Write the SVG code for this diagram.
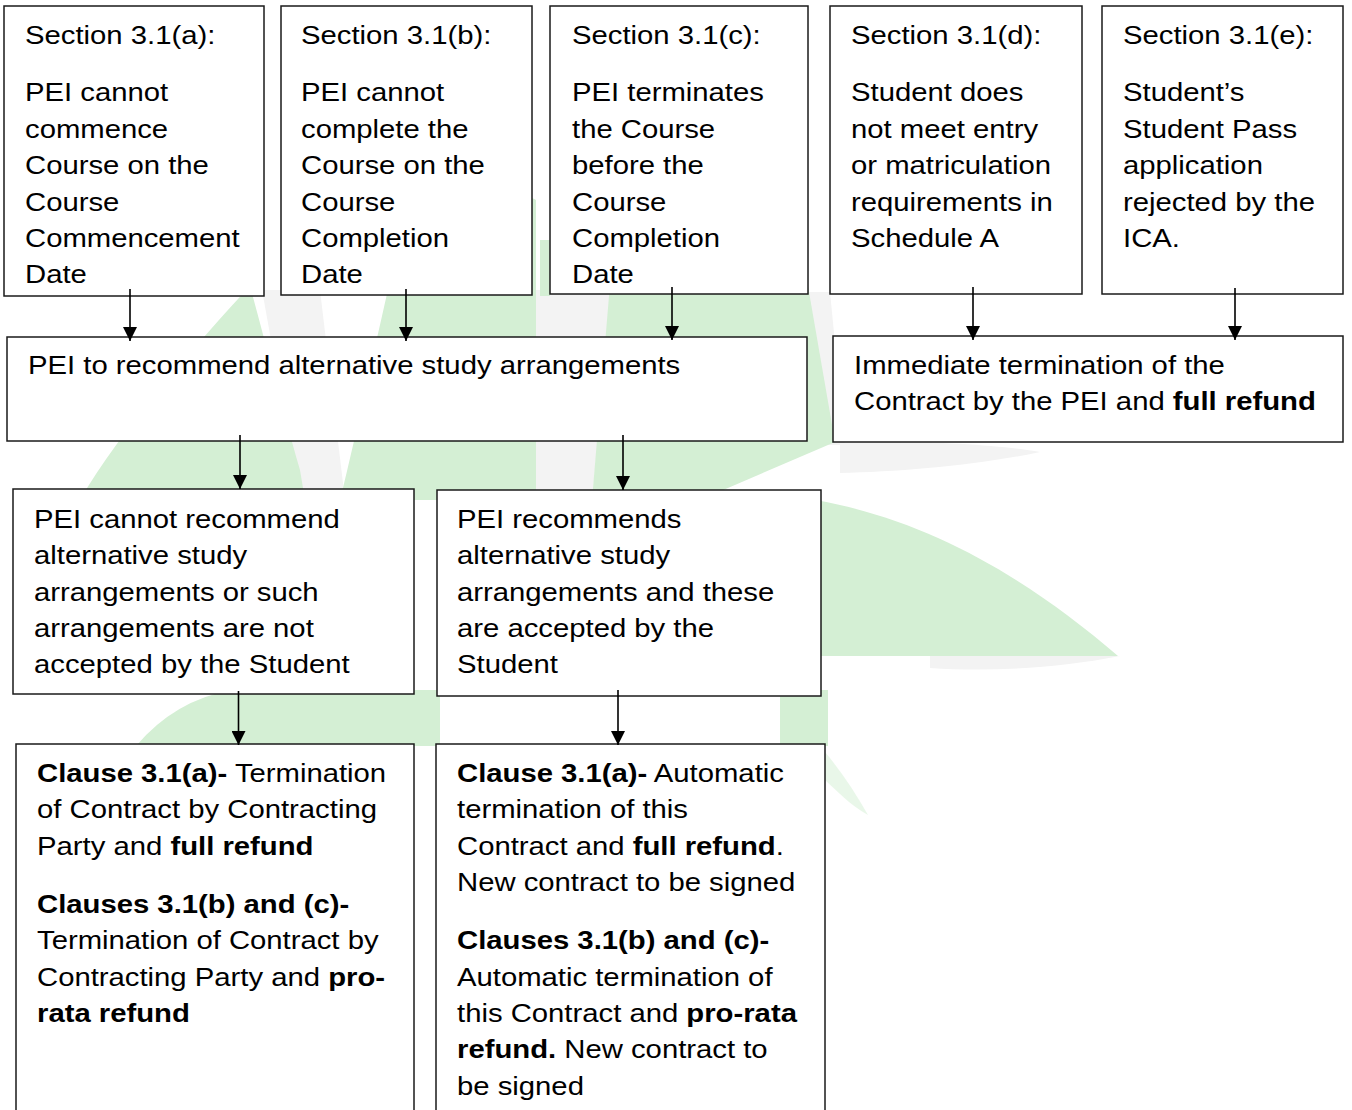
<svg xmlns="http://www.w3.org/2000/svg" width="1352" height="1110" viewBox="0 0 1352 1110">
<style>
.box{fill:#fff;stroke:#1a1a1a;stroke-width:1.5}
.t{font-family:"Liberation Sans",Arial,sans-serif;font-size:26.5px;fill:#000}
.b{font-weight:bold}
.leaf{fill:#d4efd4}
.grey{fill:#f3f3f3}
.con{stroke:#000;stroke-width:1.6;fill:none}
</style>
<defs>
<marker id="ah" markerUnits="userSpaceOnUse" markerWidth="14" markerHeight="14" refX="14" refY="7" orient="auto" viewBox="0 0 14 14">
<path d="M0,0 L14,7 L0,14 Z" fill="#000"/>
</marker>
</defs>
<rect width="1352" height="1110" fill="#fff"/>
<g id="watermark">
<path class="grey" d="M262,290 L320,290 L345,500 L300,500 Z"/>
<path class="grey" d="M536,290 L612,290 L592,500 L536,500 Z"/>
<path class="grey" d="M800,292 L830,292 L845,445 L800,445 Z"/>
<path class="grey" d="M840,443 C920,440 1000,445 1040,452 C980,465 900,472 840,473 Z"/>
<path class="grey" d="M930,655 L1120,656 C1060,668 990,672 930,668 Z"/>
<path class="leaf" d="M250,286 C262,330 280,400 300,470 L305,500 L80,500 C120,430 200,340 250,286 Z"/>
<path class="leaf" d="M402,230 C450,200 520,190 536,200 L536,500 L340,500 C360,420 380,320 402,230 Z"/>
<path class="leaf" d="M540,240 L550,240 L550,296 L540,296 Z"/>
<path class="leaf" d="M612,260 C680,230 760,230 800,240 L835,442 L700,500 L592,500 Z"/>
<path class="leaf" d="M815,500 C930,520 1030,580 1118,656 L815,656 Z"/>
<path class="leaf" d="M136,746 Q175,700 232,690 L440,690 L440,746 Z"/>
<path class="leaf" d="M780,690 L828,690 L828,746 L780,746 Z"/>
<path class="leaf" d="M825,752 C840,770 855,792 868,815 C850,805 836,790 825,780 Z" opacity="0.5"/>
</g>
<g id="nodes">
<g id="sec-a">
<rect class="box" x="4" y="6" width="260" height="290"/>
<text class="t" transform="translate(25,44) scale(1.105,1)"><tspan x="0" y="0">Section 3.1(a):</tspan><tspan x="0" y="57.5">PEI cannot</tspan><tspan x="0" y="94">commence</tspan><tspan x="0" y="130.3">Course on the</tspan><tspan x="0" y="166.7">Course</tspan><tspan x="0" y="203">Commencement</tspan><tspan x="0" y="239.4">Date</tspan></text>
</g>
<g id="sec-b">
<rect class="box" x="281" y="6" width="251" height="289"/>
<text class="t" transform="translate(301,44) scale(1.105,1)"><tspan x="0" y="0">Section 3.1(b):</tspan><tspan x="0" y="57.5">PEI cannot</tspan><tspan x="0" y="94">complete the</tspan><tspan x="0" y="130.3">Course on the</tspan><tspan x="0" y="166.7">Course</tspan><tspan x="0" y="203">Completion</tspan><tspan x="0" y="239.4">Date</tspan></text>
</g>
<g id="sec-c">
<rect class="box" x="550" y="6" width="258" height="288"/>
<text class="t" transform="translate(572,44) scale(1.105,1)"><tspan x="0" y="0">Section 3.1(c):</tspan><tspan x="0" y="57.5">PEI terminates</tspan><tspan x="0" y="94">the Course</tspan><tspan x="0" y="130.3">before the</tspan><tspan x="0" y="166.7">Course</tspan><tspan x="0" y="203">Completion</tspan><tspan x="0" y="239.4">Date</tspan></text>
</g>
<g id="sec-d">
<rect class="box" x="830" y="6" width="252" height="288"/>
<text class="t" transform="translate(851,44) scale(1.105,1)"><tspan x="0" y="0">Section 3.1(d):</tspan><tspan x="0" y="57.5">Student does</tspan><tspan x="0" y="94">not meet entry</tspan><tspan x="0" y="130.3">or matriculation</tspan><tspan x="0" y="166.7">requirements in</tspan><tspan x="0" y="203">Schedule A</tspan></text>
</g>
<g id="sec-e">
<rect class="box" x="1102" y="6" width="241" height="288"/>
<text class="t" transform="translate(1123,44) scale(1.105,1)"><tspan x="0" y="0">Section 3.1(e):</tspan><tspan x="0" y="57.5">Student’s</tspan><tspan x="0" y="94">Student Pass</tspan><tspan x="0" y="130.3">application</tspan><tspan x="0" y="166.7">rejected by the</tspan><tspan x="0" y="203">ICA.</tspan></text>
</g>
<g id="recommend">
<rect class="box" x="7" y="337" width="800" height="104"/>
<text class="t" transform="translate(28,374) scale(1.105,1)">PEI to recommend alternative study arrangements</text>
</g>
<g id="immediate">
<rect class="box" x="833" y="336" width="510" height="106"/>
<text class="t" transform="translate(854,374) scale(1.105,1)"><tspan x="0" y="0">Immediate termination of the</tspan><tspan x="0" y="36">Contract by the PEI and <tspan class="b">full refund</tspan></tspan></text>
</g>
<g id="not-accepted">
<rect class="box" x="13" y="489" width="401" height="205"/>
<text class="t" transform="translate(34,528) scale(1.105,1)"><tspan x="0" y="0">PEI cannot recommend</tspan><tspan x="0" y="36.3">alternative study</tspan><tspan x="0" y="72.6">arrangements or such</tspan><tspan x="0" y="109">arrangements are not</tspan><tspan x="0" y="145.3">accepted by the Student</tspan></text>
</g>
<g id="accepted">
<rect class="box" x="437" y="490" width="384" height="206"/>
<text class="t" transform="translate(457,528) scale(1.105,1)"><tspan x="0" y="0">PEI recommends</tspan><tspan x="0" y="36.3">alternative study</tspan><tspan x="0" y="72.6">arrangements and these</tspan><tspan x="0" y="109">are accepted by the</tspan><tspan x="0" y="145.3">Student</tspan></text>
</g>
<g id="outcome-left">
<rect class="box" x="16" y="744" width="398" height="380"/>
<text class="t" transform="translate(37,782) scale(1.105,1)"><tspan x="0" y="0"><tspan class="b">Clause 3.1(a)-</tspan> Termination</tspan><tspan x="0" y="36.5">of Contract by Contracting</tspan><tspan x="0" y="73">Party and <tspan class="b">full refund</tspan></tspan><tspan x="0" y="131" class="b">Clauses 3.1(b) and (c)-</tspan><tspan x="0" y="167.5">Termination of Contract by</tspan><tspan x="0" y="204">Contracting Party and <tspan class="b">pro-</tspan></tspan><tspan x="0" y="240" class="b">rata refund</tspan></text>
</g>
<g id="outcome-right">
<rect class="box" x="436" y="744" width="389" height="380"/>
<text class="t" transform="translate(457,782) scale(1.105,1)"><tspan x="0" y="0"><tspan class="b">Clause 3.1(a)-</tspan> Automatic</tspan><tspan x="0" y="36.5">termination of this</tspan><tspan x="0" y="73">Contract and <tspan class="b">full refund</tspan>.</tspan><tspan x="0" y="109.4">New contract to be signed</tspan><tspan x="0" y="167.5" class="b">Clauses 3.1(b) and (c)-</tspan><tspan x="0" y="204">Automatic termination of</tspan><tspan x="0" y="240">this Contract and <tspan class="b">pro-rata</tspan></tspan><tspan x="0" y="276.5"><tspan class="b">refund.</tspan> New contract to</tspan><tspan x="0" y="313">be signed</tspan></text>
</g>
</g>
<g id="connectors">
<line class="con" x1="130" y1="289" x2="130" y2="341" marker-end="url(#ah)"/>
<line class="con" x1="406" y1="289" x2="406" y2="341" marker-end="url(#ah)"/>
<line class="con" x1="672" y1="287" x2="672" y2="340" marker-end="url(#ah)"/>
<line class="con" x1="973" y1="287" x2="973" y2="340" marker-end="url(#ah)"/>
<line class="con" x1="1235" y1="288" x2="1235" y2="340" marker-end="url(#ah)"/>
<line class="con" x1="240" y1="435" x2="240" y2="489" marker-end="url(#ah)"/>
<line class="con" x1="623" y1="435" x2="623" y2="490" marker-end="url(#ah)"/>
<line class="con" x1="238.5" y1="691" x2="238.5" y2="745" marker-end="url(#ah)"/>
<line class="con" x1="618" y1="690" x2="618" y2="745" marker-end="url(#ah)"/>
</g>
</svg>
